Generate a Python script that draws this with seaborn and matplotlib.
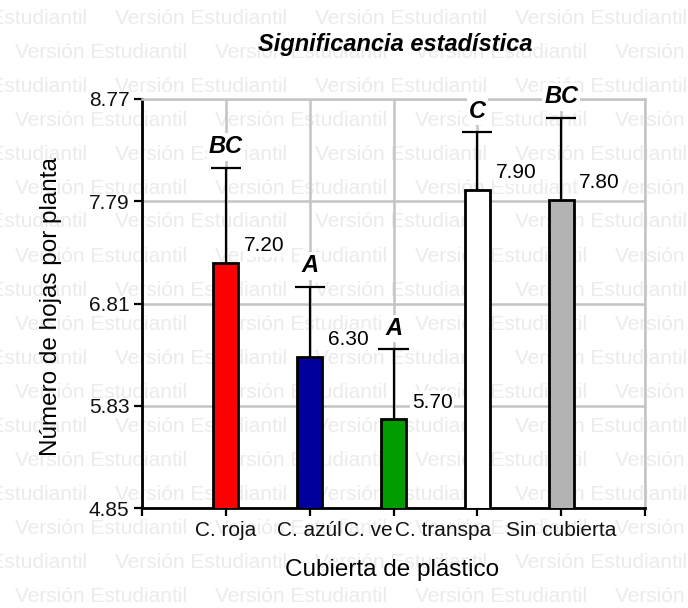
import matplotlib
matplotlib.use("Agg")
import matplotlib.pyplot as plt
import seaborn as sns
import pandas as pd
from matplotlib.transforms import ScaledTranslation

# Datos: medias por tipo de cubierta, error (solo hacia arriba) y letras de Tukey
categorias = ["C. roja", "C. azúl", "C. ve", "C. transpa", "Sin cubierta"]
medias = [7.20, 6.30, 5.70, 7.90, 7.80]
errores = [0.91, 0.67, 0.67, 0.55, 0.79]
letras = ["BC", "A", "A", "C", "BC"]
colores = ["#ff0000", "#00009c", "#009c00", "#ffffff", "#b3b3b3"]
y_ticks = [4.85, 5.83, 6.81, 7.79, 8.77]
marca_agua = "Versión Estudiantil"

sns.set_theme(style="white")
plt.rcParams["font.family"] = ["Liberation Sans", "DejaVu Sans"]

W, H = 688, 608
fig = plt.figure(figsize=(W / 100, H / 100), dpi=100)
fig.patch.set_facecolor("white")

# Marca de agua repetida en el fondo de la figura
for k in range(18):
    yk = 18 + 34 * k
    xk = 15 if k % 2 == 1 else -85
    while xk < W:
        fig.text(xk / W, 1 - yk / H, marca_agua, fontsize=15, color="#ebebeb",
                 ha="left", va="center", zorder=-5)
        xk += 200

ax = fig.add_axes([142 / W, 1 - 508 / H, (645 - 142) / W, (508 - 99) / H])
ax.patch.set_alpha(0)

df = pd.DataFrame({"cubierta": categorias, "hojas": medias})
sns.barplot(data=df, x="cubierta", y="hojas", hue="cubierta", order=categorias,
            palette=dict(zip(categorias, colores)), saturation=1, width=0.3,
            errorbar=None, edgecolor="black", linewidth=2, legend=False, ax=ax,
            zorder=3)

# Barras de error (solo el tramo superior)
pos = list(range(len(categorias)))
tops = [m + e for m, e in zip(medias, errores)]
ax.vlines(pos, medias, tops, color="black", linewidth=1.6, zorder=2.5)
ax.hlines(tops, [p - 0.18 for p in pos], [p + 0.18 for p in pos],
          color="black", linewidth=1.6, zorder=2.5)

for p, m, t, l in zip(pos, medias, tops, letras):
    ax.text(p + 0.46, m + 0.165, f"{m:.2f}", fontsize=15, ha="center", va="center",
            color="black", zorder=4,
            bbox=dict(facecolor="white", edgecolor="none", pad=1))
    ax.text(p, t + 0.2, l, fontsize=17, fontweight="bold", fontstyle="italic",
            ha="center", va="center", color="black", zorder=4,
            bbox=dict(facecolor="white", edgecolor="none", pad=1.5))

ax.set_ylim(y_ticks[0], y_ticks[-1])
ax.set_yticks(y_ticks)
ax.set_yticklabels([f"{v:.2f}" for v in y_ticks])
ax.set_xlim(-1, len(categorias))
ax.set_xticks(list(range(-1, len(categorias) + 1)))
ax.set_xticklabels([""] + categorias + [""])

ax.grid(True, color="#c4c4c4", linewidth=1.8, zorder=0)
ax.set_axisbelow(True)
for s in ["left", "bottom"]:
    ax.spines[s].set_color("black")
    ax.spines[s].set_linewidth(2)
for s in ["top", "right"]:
    ax.spines[s].set_color("#c4c4c4")
    ax.spines[s].set_linewidth(1.8)

ax.tick_params(axis="both", which="major", direction="out", length=6, width=1.6,
               color="black", labelsize=15, labelcolor="#111111", left=True,
               bottom=True, pad=3)

# Las etiquetas de "C. ve" y "C. transpa" quedan corridas hacia la izquierda
offsets = {"C. ve": -25, "C. transpa": -34}
for lab in ax.get_xticklabels():
    dx = offsets.get(lab.get_text())
    if dx is not None:
        lab.set_transform(lab.get_transform() + ScaledTranslation(dx / 100, 0, fig.dpi_scale_trans))

ax.set_xlabel("Cubierta de plástico", fontsize=17.5, color="black")
ax.set_ylabel("Número de hojas por planta", fontsize=17.5, color="black")
ax.xaxis.set_label_coords((392 - 142) / 503, (508 - 570) / 409)
ax.xaxis.label.set_va("center")
ax.yaxis.set_label_coords((51 - 142) / 503, (508 - 307) / 409)
ax.yaxis.label.set_va("center")

fig.text(395 / W, 1 - 45 / H, "Significancia estadística", fontsize=17,
         fontweight="bold", fontstyle="italic", ha="center", va="center", color="black")

fig.savefig("out.png", dpi=100, facecolor="white")
